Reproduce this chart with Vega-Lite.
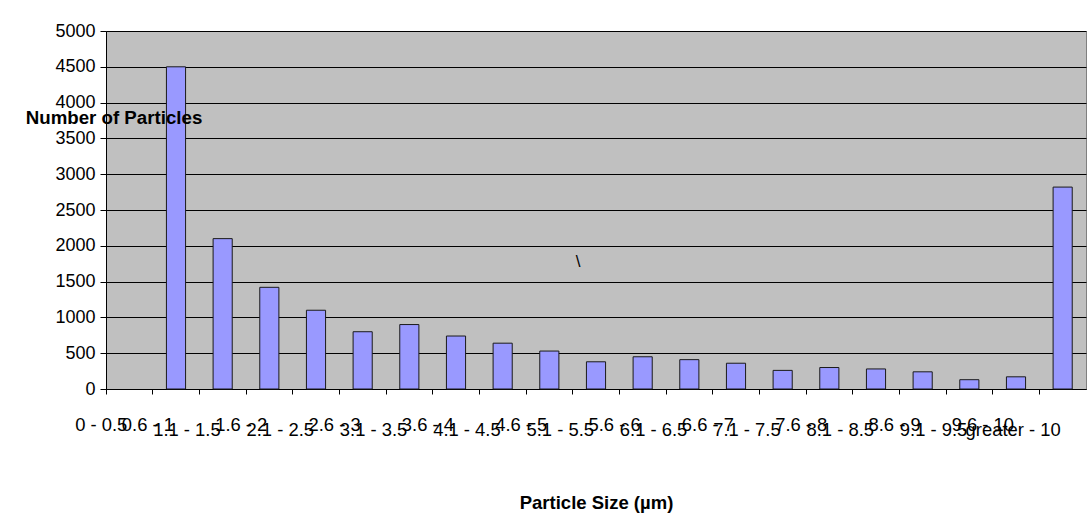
{
  "$schema": "https://vega.github.io/schema/vega-lite/v6.json",
  "width": 980,
  "height": 358,
  "autosize": "none",
  "padding": {"left": 106, "top": 31, "right": 1, "bottom": 142},
  "background": "#ffffff",
  "config": {
    "view": {"fill": "#c0c0c0", "stroke": "#808080", "strokeWidth": 1},
    "font": "Liberation Sans",
    "axis": {
      "labelFont": "Liberation Sans",
      "labelColor": "#000000",
      "titleFont": "Liberation Sans",
      "titleColor": "#000000",
      "domainColor": "#000000",
      "tickColor": "#000000",
      "gridColor": "#000000",
      "gridOpacity": 1
    }
  },
  "datasets": {
    "counts": [
      {"size": "0.6 - 1", "count": 4500},
      {"size": "1.1 - 1.5", "count": 2100},
      {"size": "1.6 - 2", "count": 1420},
      {"size": "2.1 - 2.5", "count": 1100},
      {"size": "2.6 - 3", "count": 800},
      {"size": "3.1 - 3.5", "count": 900},
      {"size": "3.6 - 4", "count": 740},
      {"size": "4.1 - 4.5", "count": 640},
      {"size": "4.6 - 5", "count": 530},
      {"size": "5.1 - 5.5", "count": 380},
      {"size": "5.6 - 6", "count": 450},
      {"size": "6.1 - 6.5", "count": 410},
      {"size": "6.6 - 7", "count": 360},
      {"size": "7.1 - 7.5", "count": 260},
      {"size": "7.6 - 8", "count": 300},
      {"size": "8.1 - 8.5", "count": 280},
      {"size": "8.6 - 9", "count": 240},
      {"size": "9.1 - 9.5", "count": 130},
      {"size": "9.6 - 10", "count": 170},
      {"size": "greater - 10", "count": 2820}
    ],
    "notes": [
      {"size": "5.1 - 5.5", "count": 1706, "note": "\\"}
    ]
  },
  "encoding": {
    "x": {
      "field": "size",
      "type": "nominal",
      "scale": {
        "type": "band",
        "paddingInner": 0,
        "paddingOuter": 0,
        "domain": ["0 - 0.5", "0.6 - 1", "1.1 - 1.5", "1.6 - 2", "2.1 - 2.5", "2.6 - 3", "3.1 - 3.5", "3.6 - 4", "4.1 - 4.5", "4.6 - 5", "5.1 - 5.5", "5.6 - 6", "6.1 - 6.5", "6.6 - 7", "7.1 - 7.5", "7.6 - 8", "8.1 - 8.5", "8.6 - 9", "9.1 - 9.5", "9.6 - 10", "greater - 10"]
      },
      "axis": {
        "title": "Particle Size (µm)",
        "titleFontSize": 18.5,
        "titleFontWeight": "bold",
        "titleAlign": "center",
        "titleBaseline": "alphabetic",
        "titleX": 490,
        "titleY": 119,
        "bandPosition": 0,
        "tickSize": 5,
        "labelAngle": 0,
        "labelAlign": "right",
        "labelBaseline": "alphabetic",
        "labelOffset": -2,
        "labelFontSize": 18.4,
        "labelOverlap": false,
        "labelBound": false,
        "labelFlush": false,
        "labelPadding": {
          "condition": {"test": "indexof(datum.value, '.1 - ') >= 0 || datum.value == 'greater - 10'", "value": 41},
          "value": 36
        },
        "grid": false
      }
    }
  },
  "layer": [
    {
      "data": {"name": "counts"},
      "mark": {"type": "bar", "width": {"band": 0.41}, "fill": "#9999ff", "stroke": "#1a1a1a", "strokeWidth": 1},
      "encoding": {
        "y": {
          "field": "count",
          "type": "quantitative",
          "scale": {"domain": [0, 5000], "nice": false},
          "axis": {
            "title": null,
            "values": [0, 500, 1000, 1500, 2000, 2500, 3000, 3500, 4000, 4500, 5000],
            "format": "d",
            "labelFontSize": 18,
            "tickSize": 6,
            "labelPadding": 5,
            "grid": true,
            "gridWidth": 1,
            "zindex": 0
          }
        }
      }
    },
    {
      "data": {"name": "notes"},
      "mark": {"type": "text", "font": "Liberation Sans", "fontSize": 17, "color": "#000000", "baseline": "alphabetic", "dx": -18},
      "encoding": {
        "y": {
          "field": "count",
          "type": "quantitative",
          "axis": {
            "orient": "left",
            "title": "Number of Particles",
            "titleFontSize": 18.7,
            "titleFontWeight": "bold",
            "titleAngle": 0,
            "titleAlign": "center",
            "titleBaseline": "alphabetic",
            "titleX": 7.5,
            "titleY": 92,
            "labels": false,
            "ticks": false,
            "domain": false,
            "grid": false,
            "zindex": 1
          }
        },
        "text": {"field": "note"}
      }
    }
  ],
  "resolve": {"axis": {"y": "independent"}}
}
